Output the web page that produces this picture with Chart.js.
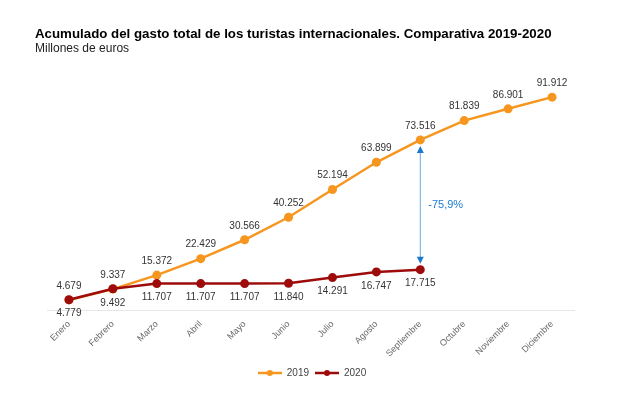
<!DOCTYPE html>
<html>
<head>
<meta charset="utf-8">
<script src="https://cdn.jsdelivr.net/npm/chart.js@4.4.1/dist/chart.umd.min.js"></script>
<style>
  html, body { margin: 0; padding: 0; background: #fff; }
  #wrap { width: 643px; height: 397px; }
</style>
</head>
<body>
<div id="wrap"><canvas id="gasto"></canvas></div>
<script>
// datos (millones de euros, acumulado)
const months = ["Enero", "Febrero", "Marzo", "Abril", "Mayo", "Junio", "Julio", "Agosto", "Septiembre", "Octubre", "Noviembre", "Diciembre"];
const gasto2019 = [4679, 9337, 15372, 22429, 30566, 40252, 52194, 63899, 73516, 81839, 86901, 91912];
const gasto2020 = [4779, 9492, 11707, 11707, 11707, 11840, 14291, 16747, 17715, null, null, null];
const compareMonth = 8; // Septiembre

const orange = "#f7961f";
const darkRed = "#9e0b0b";
const blue = "#1b7ad0";
const font = "'Liberation Sans', Arial, sans-serif";

function fmt(v) {
  return String(v).replace(/\B(?=(\d{3})+(?!\d))/g, ".");
}

// icono de leyenda: línea con punto
function legendIcon(color) {
  const c = document.createElement("canvas");
  c.width = 24;
  c.height = 8;
  const g = c.getContext("2d");
  g.strokeStyle = color;
  g.lineWidth = 2.5;
  g.beginPath();
  g.moveTo(0, 4);
  g.lineTo(24, 4);
  g.stroke();
  g.fillStyle = color;
  g.beginPath();
  g.arc(12, 4, 3, 0, Math.PI * 2);
  g.fill();
  return c;
}

const labelsPlugin = {
  id: "valueLabels",
  afterLayout(chart) {
    // leyenda algo desplazada a la derecha, como en el original
    chart.legend.left += 15;
  },
  afterDatasetsDraw(chart) {
    const ctx = chart.ctx;
    ctx.save();
    ctx.font = "10px " + font;
    ctx.fillStyle = "#333";
    ctx.textAlign = "center";
    ctx.textBaseline = "middle";
    chart.data.datasets.forEach((ds, i) => {
      const meta = chart.getDatasetMeta(i);
      meta.data.forEach((pt, j) => {
        if (ds.data[j] == null) return;
        const dy = i === 0 ? -14 : 14;
        ctx.fillText(fmt(ds.data[j]), pt.x, pt.y + dy);
      });
    });

    // flecha comparativa
    const x = chart.scales.x.getPixelForValue(compareMonth);
    const yTop = chart.scales.y.getPixelForValue(gasto2019[compareMonth]) + 6;
    const yBot = chart.scales.y.getPixelForValue(gasto2020[compareMonth]) - 6;
    ctx.strokeStyle = "#6aa9e3";
    ctx.lineWidth = 1;
    ctx.beginPath();
    ctx.moveTo(x, yTop + 5);
    ctx.lineTo(x, yBot - 5);
    ctx.stroke();
    ctx.fillStyle = blue;
    ctx.beginPath();
    ctx.moveTo(x, yTop);
    ctx.lineTo(x - 3.5, yTop + 7);
    ctx.lineTo(x + 3.5, yTop + 7);
    ctx.closePath();
    ctx.fill();
    ctx.beginPath();
    ctx.moveTo(x, yBot);
    ctx.lineTo(x - 3.5, yBot - 7);
    ctx.lineTo(x + 3.5, yBot - 7);
    ctx.closePath();
    ctx.fill();

    const pct = (gasto2020[compareMonth] / gasto2019[compareMonth] - 1) * 100;
    ctx.font = "11px " + font;
    ctx.textAlign = "left";
    ctx.fillText(pct.toFixed(1).replace(".", ",") + "%", x + 8, (yTop + yBot) / 2);
    ctx.restore();
  }
};

new Chart(document.getElementById("gasto"), {
  type: "line",
  data: {
    labels: months,
    datasets: [
      {
        label: "2019",
        data: gasto2019,
        borderColor: orange,
        backgroundColor: orange,
        borderWidth: 2.5,
        pointRadius: 4.5,
        pointBorderWidth: 0,
        tension: 0,
        order: 2
      },
      {
        label: "2020",
        data: gasto2020,
        borderColor: darkRed,
        backgroundColor: darkRed,
        borderWidth: 2.5,
        pointRadius: 4.5,
        pointBorderWidth: 0,
        tension: 0,
        order: 1
      }
    ]
  },
  options: {
    responsive: true,
    maintainAspectRatio: false,
    animation: false,
    layout: { padding: { left: 35, right: 69, top: 0, bottom: 9 } },
    plugins: {
      title: {
        display: true,
        text: "Acumulado del gasto total de los turistas internacionales. Comparativa 2019-2020",
        align: "start",
        color: "#000",
        font: { family: font, size: 13.3, weight: "bold" },
        padding: { top: 26, bottom: 0 }
      },
      subtitle: {
        display: true,
        text: "Millones de euros",
        align: "start",
        color: "#222",
        font: { family: font, size: 12 },
        padding: { top: 0, bottom: 22 }
      },
      legend: {
        position: "bottom",
        labels: {
          usePointStyle: true,
          pointStyleWidth: 24,
          boxHeight: 8,
          color: "#444",
          font: { family: font, size: 10 },
          padding: 6,
          generateLabels(chart) {
            const items = Chart.defaults.plugins.legend.labels.generateLabels(chart);
            items.sort((a, b) => a.datasetIndex - b.datasetIndex);
            items.forEach(it => {
              it.pointStyle = legendIcon(chart.data.datasets[it.datasetIndex].borderColor);
            });
            return items;
          }
        }
      },
      tooltip: { enabled: false }
    },
    scales: {
      x: {
        offset: true,
        grid: { display: false, tickLength: 5 },
        border: { display: true, color: "#e6e6e6" },
        ticks: {
          color: "#666",
          font: { family: font, size: 9 },
          padding: 3,
          maxRotation: 45,
          minRotation: 45,
          autoSkip: false
        }
      },
      y: {
        display: true,
        min: 0,
        max: 100000,
        grid: { display: false },
        border: { display: false },
        ticks: { display: false },
        afterFit(s) { s.width = 12; }
      }
    }
  },
  plugins: [labelsPlugin]
});
</script>
</body>
</html>
